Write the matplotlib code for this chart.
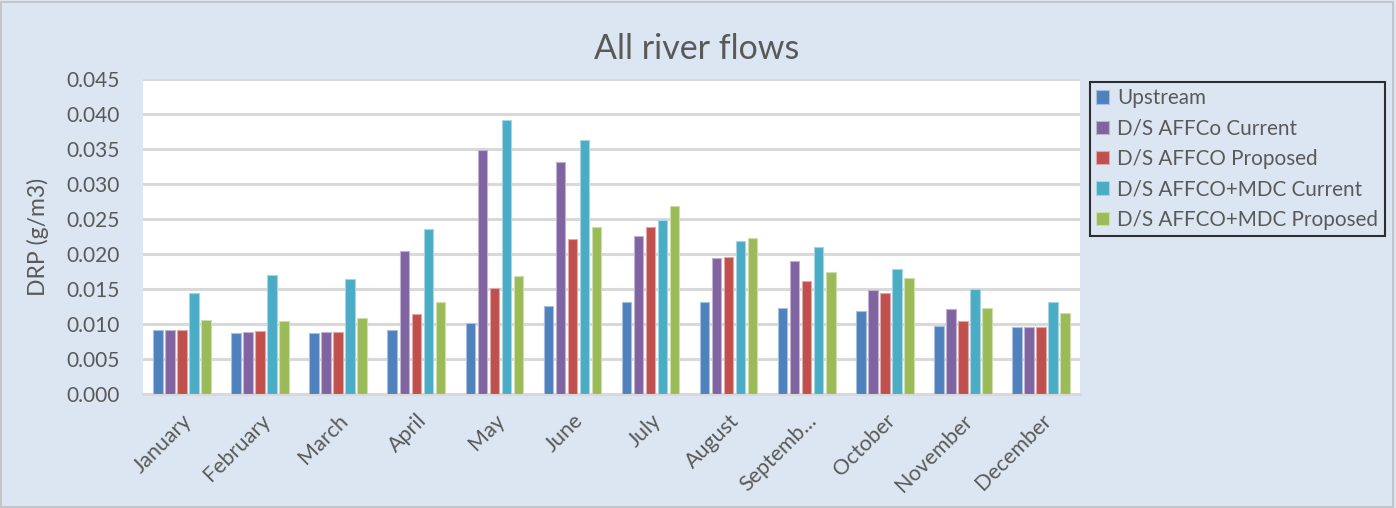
import numpy as np
import matplotlib
matplotlib.use("Agg")
import matplotlib.pyplot as plt
from matplotlib.patches import Rectangle

plt.rcParams['font.family'] = ['Lato', 'DejaVu Sans']

months = ["January", "February", "March", "April", "May", "June", "July",
          "August", "Septemb...", "October", "November", "December"]

upstream = [0.0091, 0.0087, 0.0087, 0.0092, 0.0102, 0.0126, 0.0131,
            0.0132, 0.0123, 0.0119, 0.0097, 0.0096]
affco_current = [0.0091, 0.0089, 0.0088, 0.0204, 0.0349, 0.0332, 0.0226,
                 0.0195, 0.0190, 0.0149, 0.0121, 0.0096]
affco_proposed = [0.0091, 0.0090, 0.0088, 0.0115, 0.0152, 0.0221, 0.0239,
                  0.0196, 0.0161, 0.0144, 0.0105, 0.0096]
mdc_current = [0.0145, 0.0170, 0.0164, 0.0236, 0.0392, 0.0363, 0.0249,
               0.0218, 0.0210, 0.0178, 0.0150, 0.0132]
mdc_proposed = [0.0106, 0.0105, 0.0109, 0.0131, 0.0168, 0.0238, 0.0268,
                0.0223, 0.0174, 0.0166, 0.0123, 0.0116]

series_names = ["Upstream", "D/S AFFCo Current", "D/S AFFCO Proposed",
                "D/S AFFCO+MDC Current", "D/S AFFCO+MDC Proposed"]
series_values = [upstream, affco_current, affco_proposed, mdc_current, mdc_proposed]
colors = ["#4F81BD", "#8064A2", "#C0504D", "#4BACC6", "#9BBB59"]
edge_colors = ["#A7C0DE", "#BFB1D0", "#DFA7A6", "#A5D5E2", "#CDDDAC"]

bg = "#DCE6F2"
text_color = "#595959"

fig = plt.figure(figsize=(13.96, 5.08), dpi=100, facecolor=bg)
ax = fig.add_axes([143 / 1396, 1 - 394 / 508, (1080 - 143) / 1396, (394 - 79) / 508])
ax.set_facecolor("white")

x = np.arange(len(months))
step = 0.154
width = 0.122
for i, (name, vals) in enumerate(zip(series_names, series_values)):
    ax.bar(x + (i - 2) * step, vals, width=width, color=colors[i],
           edgecolor=edge_colors[i], linewidth=0.8, label=name, zorder=3)

ax.set_xlim(-0.5, len(months) - 0.5)
ax.set_ylim(0, 0.045)
yticks = np.arange(0, 0.0451, 0.005)
ax.set_yticks(yticks)
ax.set_yticklabels([f"{v:.3f}" for v in yticks])
ax.yaxis.grid(True, color="#D9D9D9", linewidth=2.2, zorder=0)
ax.set_axisbelow(True)

ax.set_xticks(x)
ax.set_xticklabels(months, rotation=45, ha="right", rotation_mode="anchor")
ax.tick_params(axis="both", length=0, colors=text_color)
ax.tick_params(axis="y", labelsize=15, pad=17)
ax.tick_params(axis="x", labelsize=15.5, pad=12)

for side in ["top", "right", "left"]:
    ax.spines[side].set_visible(False)
ax.spines["bottom"].set_color("#D9D9D9")
ax.spines["bottom"].set_linewidth(2.2)

ax.set_ylabel("DRP (g/m3)", fontsize=16.5, color=text_color, labelpad=12)
fig.text(697 / 1396, 1 - 49 / 508, "All river flows", ha="center", va="center",
         fontsize=24.5, color=text_color)

leg = fig.legend(loc="upper left", bbox_to_anchor=(1090 / 1396, 1 - 82 / 508),
                 frameon=True, fancybox=False, fontsize=14.9, labelcolor=text_color,
                 handlelength=0.62, handleheight=0.62, handletextpad=0.4,
                 labelspacing=0.5, borderpad=0.3, borderaxespad=0)
leg.get_frame().set_facecolor(bg)
leg.get_frame().set_edgecolor("black")
leg.get_frame().set_linewidth(1.5)

fig.patches.append(Rectangle((0.001, 0.002), 0.997, 0.995, transform=fig.transFigure,
                             fill=False, edgecolor="#BFBFBF", linewidth=1.2))

fig.savefig("out.png", dpi=100, facecolor=bg)
